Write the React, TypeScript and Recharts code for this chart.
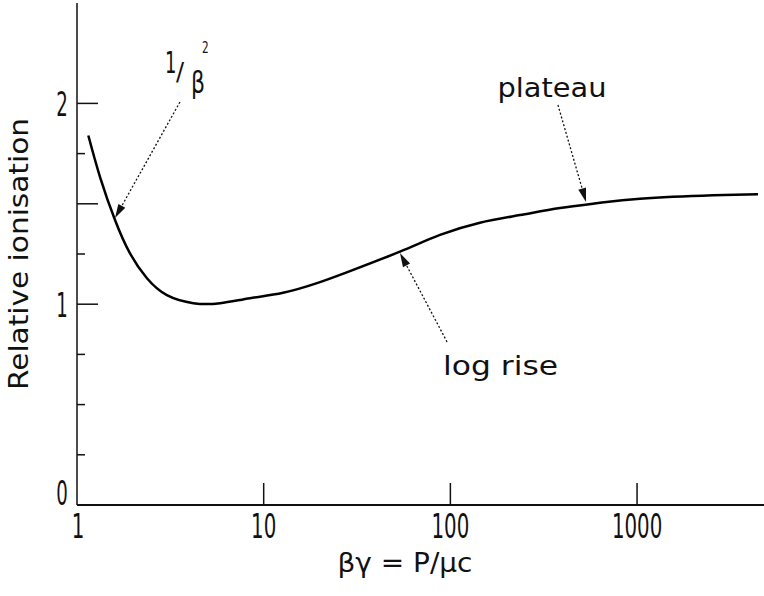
import React from "react";
import { LineChart, Line, XAxis, YAxis, ReferenceLine } from "recharts";

const betaGamma = [1.15, 1.33, 1.6, 1.92, 2.37, 3.03, 4.2, 5.84, 8.45, 12.7, 19.3, 29, 53.7, 88, 144, 236, 387, 634, 1037, 2553, 4446];
const ionisation = [1.84, 1.632, 1.418, 1.254, 1.129, 1.045, 1.005, 1.005, 1.03, 1.057, 1.105, 1.165, 1.262, 1.345, 1.406, 1.444, 1.479, 1.505, 1.525, 1.542, 1.547];

const xTicks = [1, 10, 100, 1000];
const yTicks = [0, 0.25, 0.5, 0.75, 1, 1.25, 1.5, 1.75, 2];
const yLabelled = [0, 1, 2];
const yLong = [1, 1.5, 2];

// annotation arrows: [start, tip] in data coordinates
const betaArrow = [[3.56, 2.007], [1.598, 1.429]];
const plateauArrow = [[377, 1.992], [533, 1.509]];
const logRiseArrow = [[96, 0.812], [53.7, 1.255]];

const data = betaGamma.map((bg, i) => ({ bg, ion: ionisation[i] }));

const FONT = "DejaVu Sans";

function Narrow({ x, y, size = 33, sx = 0.6, anchor = "middle", children }: any) {
  return (
    <text
      transform={`translate(${x},${y}) scale(${sx},1)`}
      textAnchor={anchor}
      fontSize={size}
      fontFamily={FONT}
      fill="#111"
    >
      {children}
    </text>
  );
}

function XTick({ x, y, payload }: any) {
  const v = payload.value;
  return (
    <g>
      {v !== 1 && <line x1={x} y1={y} x2={x} y2={y - 22} stroke="#111" strokeWidth={1.5} />}
      <Narrow x={v === 1 ? x + 1 : x} y={y + 33}>{String(v)}</Narrow>
    </g>
  );
}

function YTick({ x, y, payload }: any) {
  const v = payload.value;
  const len = yLong.includes(v) ? 21 : 8;
  return (
    <g>
      {v !== 0 && <line x1={x} y1={y} x2={x + len} y2={y} stroke="#111" strokeWidth={1.5} />}
      {yLabelled.includes(v) && (
        <Narrow x={x - 15} y={v === 0 ? y : y + 13} sx={0.55}>{String(v)}</Narrow>
      )}
    </g>
  );
}

function Arrow({ x1, y1, x2, y2, children }: any) {
  const dx = x2 - x1;
  const dy = y2 - y1;
  const len = Math.hypot(dx, dy) || 1;
  const ux = dx / len;
  const uy = dy / len;
  const hl = 14;
  const hw = 4;
  const bx = x2 - ux * hl;
  const by = y2 - uy * hl;
  return (
    <g>
      <line x1={x1} y1={y1} x2={bx} y2={by} stroke="#111" strokeWidth={1.3} strokeDasharray="2 2" />
      <polygon
        points={`${x2},${y2} ${bx - uy * hw},${by + ux * hw} ${bx + uy * hw},${by - ux * hw}`}
        fill="#111"
      />
      {children && children(x1, y1)}
    </g>
  );
}

export default function App() {
  return (
    <div style={{ position: "absolute", left: 0, top: 0, background: "#fff" }}>
      <LineChart width={764} height={596} data={data} margin={{ top: 3, right: 0, bottom: 0, left: 0 }}>
        <XAxis
          dataKey="bg"
          type="number"
          scale="log"
          domain={[1, 4786]}
          allowDataOverflow
          ticks={xTicks}
          interval={0}
          tick={<XTick />}
          tickLine={false}
          tickSize={0}
          tickMargin={0}
          height={91}
          axisLine={{ stroke: "#111", strokeWidth: 2 }}
        />
        <YAxis
          type="number"
          domain={[0, 2.5]}
          allowDataOverflow
          ticks={yTicks}
          interval={0}
          tick={<YTick />}
          tickLine={false}
          tickSize={0}
          tickMargin={0}
          width={77}
          axisLine={{ stroke: "#111", strokeWidth: 1.5 }}
        />
        <Line
          type="natural"
          dataKey="ion"
          stroke="#000"
          strokeWidth={2.5}
          dot={false}
          isAnimationActive={false}
        />
        <ReferenceLine
          segment={[{ x: betaArrow[0][0], y: betaArrow[0][1] }, { x: betaArrow[1][0], y: betaArrow[1][1] }]}
          ifOverflow="visible"
          shape={(p: any) => (
            <Arrow {...p}>
              {(x: number, y: number) => (
                <g>
                  <Narrow x={x - 15} y={y - 29} size={30} anchor="start">1</Narrow>
                  <text x={x - 4} y={y - 22} fontSize={24} fontFamily={FONT} fill="#111">/</text>
                  <text x={x + 11} y={y - 9} fontSize={31} fontFamily={FONT} fill="#111" textLength={14} lengthAdjust="spacingAndGlyphs">β</text>
                  <Narrow x={x + 22} y={y - 49} size={15} sx={0.7} anchor="start">2</Narrow>
                </g>
              )}
            </Arrow>
          )}
        />
        <ReferenceLine
          segment={[{ x: plateauArrow[0][0], y: plateauArrow[0][1] }, { x: plateauArrow[1][0], y: plateauArrow[1][1] }]}
          ifOverflow="visible"
          shape={(p: any) => (
            <Arrow {...p}>
              {(x: number, y: number) => (
                <text x={x - 6} y={y - 8} textAnchor="middle" fontSize={26} fontFamily={FONT} fill="#111" textLength={109} lengthAdjust="spacingAndGlyphs">
                  plateau
                </text>
              )}
            </Arrow>
          )}
        />
        <ReferenceLine
          segment={[{ x: logRiseArrow[0][0], y: logRiseArrow[0][1] }, { x: logRiseArrow[1][0], y: logRiseArrow[1][1] }]}
          ifOverflow="visible"
          shape={(p: any) => (
            <Arrow {...p}>
              {(x: number, y: number) => (
                <text x={x - 4} y={y + 33} fontSize={26} fontFamily={FONT} fill="#111" textLength={115} lengthAdjust="spacingAndGlyphs">
                  log rise
                </text>
              )}
            </Arrow>
          )}
        />
        <text x={405} y={572} textAnchor="middle" fontSize={27} fontFamily={FONT} fill="#111" textLength={135} lengthAdjust="spacingAndGlyphs">
          βγ = P/μc
        </text>
        <text
          transform="translate(28,254) rotate(-90)"
          textAnchor="middle"
          fontSize={26}
          fontFamily={FONT}
          fill="#111"
          textLength={272}
          lengthAdjust="spacingAndGlyphs"
        >
          Relative ionisation
        </text>
      </LineChart>
    </div>
  );
}
